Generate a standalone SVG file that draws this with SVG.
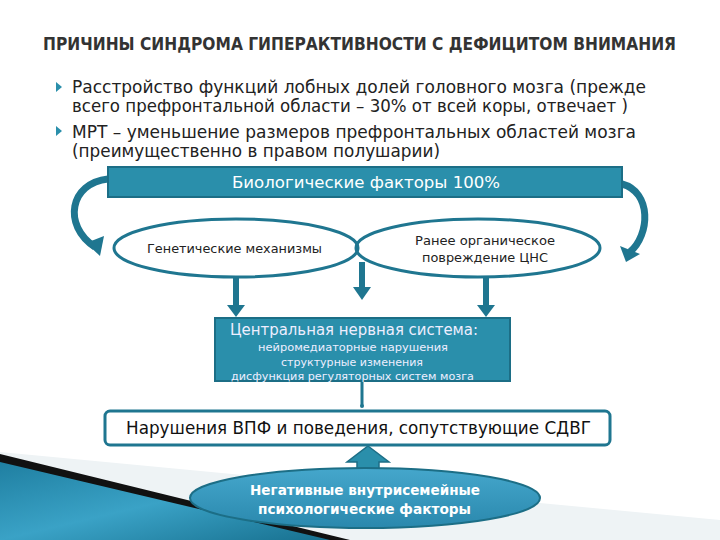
<svg xmlns="http://www.w3.org/2000/svg" width="720" height="540" viewBox="0 0 720 540">
<defs>
<style>
.t{font-family:"Liberation Sans","DejaVu Sans",sans-serif}
.c{font-family:"DejaVu Sans Condensed","DejaVu Sans",sans-serif}
.box{fill:#2a8fab;stroke:#1c6e86;stroke-width:2}
.ell{fill:none;stroke:#1f7690;stroke-width:3}
.arr{fill:#1f7690}
</style>
<linearGradient id="gTri" x1="0" y1="0" x2="1" y2="1">
<stop offset="0" stop-color="#1f7fa1"/>
<stop offset="0.5" stop-color="#3aa2c6"/>
<stop offset="1" stop-color="#17708f"/>
</linearGradient>
<linearGradient id="gEll" x1="0" y1="0" x2="0" y2="1">
<stop offset="0" stop-color="#45a7cc"/>
<stop offset="1" stop-color="#2a88ad"/>
</linearGradient>
</defs>
<rect width="720" height="540" fill="#ffffff"/>
<polygon points="0,452 720,520 720,540 0,540" fill="#eef3f5"/>
<polygon points="0,454 350,540 0,540" fill="#111"/>
<polygon points="0,462 330,540 0,540" fill="url(#gTri)"/>

<text class="c" x="43" y="50" font-size="17" font-weight="bold" fill="#333" textLength="633" lengthAdjust="spacingAndGlyphs">ПРИЧИНЫ СИНДРОМА ГИПЕРАКТИВНОСТИ С ДЕФИЦИТОМ ВНИМАНИЯ</text>

<g id="bullets" class="c" font-size="17" fill="#222">
<polygon points="56,82 62,87 56,92" fill="#2a8fab"/>
<polygon points="56,126 62,131 56,136" fill="#2a8fab"/>
<text x="72" y="93" textLength="574" lengthAdjust="spacingAndGlyphs">Расстройство функций лобных долей головного мозга (прежде</text>
<text x="72" y="112" textLength="556" lengthAdjust="spacingAndGlyphs">всего префронтальной области – 30% от всей коры, отвечает )</text>
<text x="72" y="138" textLength="564" lengthAdjust="spacingAndGlyphs">МРТ – уменьшение размеров префронтальных областей мозга</text>
<text x="72" y="157" textLength="368" lengthAdjust="spacingAndGlyphs">(преимущественно в правом полушарии)</text>
</g>

<g id="connectors">
<path d="M108,179 C70,183 62,225 95,247" fill="none" stroke="#1f7690" stroke-width="7"/>
<polygon points="86,243 104,236 100,256" class="arr"/>
<path d="M622,184 C652,192 650,235 630,252" fill="none" stroke="#1f7690" stroke-width="7"/>
<polygon points="620,246 640,254 626,262" class="arr"/>
<rect x="233" y="278" width="6" height="28" class="arr"/>
<polygon points="227,305 245,305 236,317" class="arr"/>
<rect x="483" y="278" width="6" height="28" class="arr"/>
<polygon points="477,305 495,305 486,317" class="arr"/>
<rect x="359" y="262" width="6" height="26" class="arr"/>
<polygon points="353,287 371,287 362,300" class="arr"/>
<line x1="362" y1="381" x2="362" y2="406" stroke="#1f7690" stroke-width="3"/>
<circle cx="362" cy="406" r="2" fill="#1f7690"/>
<polygon points="362,446 383,462 373,462 373,472 351,472 351,462 341,462" fill="#2a8fab" stroke="#1c6e86" stroke-width="1.5" transform="translate(6,0)"/>
</g>

<g id="bio">
<rect x="108" y="167" width="514" height="30" class="box"/>
<text class="c" x="232" y="188" font-size="16" fill="#fff" textLength="268" lengthAdjust="spacingAndGlyphs">Биологические факторы 100%</text>
</g>

<g id="genetic">
<ellipse cx="236" cy="248" rx="122" ry="29" class="ell"/>
<text class="c" x="147" y="253" font-size="12.5" fill="#222" textLength="175" lengthAdjust="spacingAndGlyphs">Генетические механизмы</text>
</g>

<g id="organic">
<ellipse cx="478" cy="248" rx="122" ry="29" class="ell"/>
<text class="c" x="415" y="245" font-size="12.5" fill="#222" textLength="140" lengthAdjust="spacingAndGlyphs">Ранее органическое</text>
<text class="c" x="422" y="262" font-size="12.5" fill="#222" textLength="126" lengthAdjust="spacingAndGlyphs">повреждение ЦНС</text>
</g>

<g id="cns">
<rect x="215" y="318" width="295" height="63" class="box"/>
<text class="c" x="230" y="335" font-size="15.5" fill="#eef" textLength="248" lengthAdjust="spacingAndGlyphs">Центральная нервная система:</text>
<text class="c" x="258" y="351" font-size="11" fill="#eef" textLength="190" lengthAdjust="spacingAndGlyphs">нейромедиаторные нарушения</text>
<text class="c" x="281" y="366" font-size="11" fill="#eef" textLength="142" lengthAdjust="spacingAndGlyphs">структурные изменения</text>
<text class="c" x="231" y="380" font-size="11" fill="#eef" textLength="243" lengthAdjust="spacingAndGlyphs">дисфункция регуляторных систем мозга</text>
</g>

<g id="adhd">
<rect x="105" y="411" width="505" height="34" rx="5" fill="#fff" stroke="#1f7690" stroke-width="3"/>
<text class="c" x="126" y="434" font-size="17" fill="#111" textLength="465" lengthAdjust="spacingAndGlyphs">Нарушения ВПФ и поведения, сопутствующие СДВГ</text>
</g>

<g id="family">
<ellipse cx="365" cy="498" rx="175" ry="30" fill="url(#gEll)" stroke="#1c6e86" stroke-width="2"/>
<text class="c" x="250" y="495" font-size="14" font-weight="bold" fill="#fff" textLength="230" lengthAdjust="spacingAndGlyphs">Негативные внутрисемейные</text>
<text class="c" x="258" y="514" font-size="14" font-weight="bold" fill="#fff" textLength="213" lengthAdjust="spacingAndGlyphs">психологические факторы</text>
</g>
</svg>
